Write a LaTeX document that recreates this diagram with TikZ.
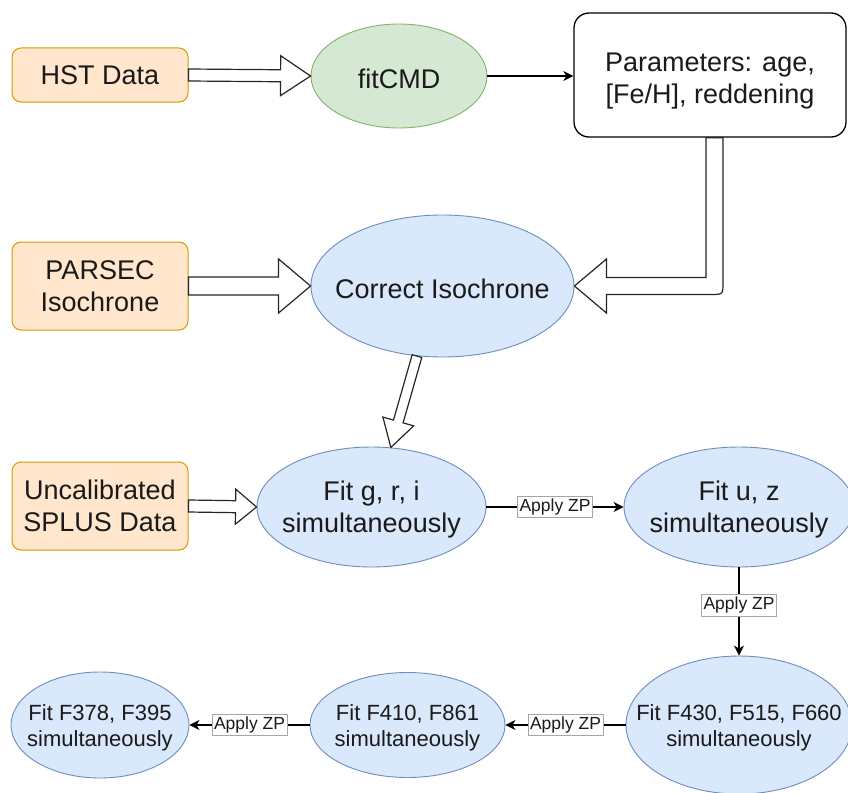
\documentclass[tikz,border=0pt]{standalone}
\usepackage{fontspec}
\setmainfont{Liberation Sans}
\usetikzlibrary{shapes.geometric,calc,arrows.meta}
\definecolor{ofill}{HTML}{FFE6CC}
\definecolor{odraw}{HTML}{D79B00}
\definecolor{gfill}{HTML}{D5E8D4}
\definecolor{gdraw}{HTML}{82B366}
\definecolor{bfill}{HTML}{DAE8FC}
\definecolor{bdraw}{HTML}{6C8EBF}
\definecolor{txt}{HTML}{1A1A1A}
\tikzset{
  bigfont/.style={font=\fontsize{27}{32}\selectfont},
  smallfont/.style={font=\fontsize{22}{26}\selectfont},
  obox/.style={draw=odraw, fill=odraw!0!ofill, fill=ofill, line width=1pt, rounded corners=9pt,
    minimum width=176pt, align=center, text=txt, bigfont, inner sep=0pt},
  bell/.style={ellipse, draw=bdraw, fill=bfill, line width=0.9pt, inner sep=0pt},
  etext/.style={align=center, text=txt, inner sep=0pt, yshift=-3pt},
  flex/.style={draw=black!85, fill=white, line width=1.2pt, line join=miter},
  conn/.style={draw=black, line width=1.3pt, -{Stealth[length=10pt,width=10pt,inset=3pt]}},
  zp/.style={fill=white, draw=black!35, line width=0.6pt, text=txt,
    font=\fontsize{17.5}{20}\selectfont, inner xsep=2pt, inner ysep=2.5pt}
}
% flex (hollow) arrow: #1 start, #2 end, #3 shaft half width, #4 head half width, #5 head length
\newcommand\flexarr[5]{%
  \coordinate (fa-h) at ($(#2)!#5!(#1)$);
  \draw[flex] ($(#1)!#3!90:(#2)$) -- ($(fa-h)!#3!-90:(#1)$) -- ($(fa-h)!#4!-90:(#1)$)
    -- (#2) -- ($(fa-h)!#4!90:(#1)$) -- ($(fa-h)!#3!90:(#1)$) -- ($(#1)!#3!-90:(#2)$) -- cycle;
}
\begin{document}
\begin{tikzpicture}[x=1pt,y=-1pt]
\clip (0,0) rectangle (848,792);
\fill[white] (0,0) rectangle (848,792);

% shapes
\node[obox, minimum height=54pt] (hst) at (100,75) {\raisebox{-2pt}{HST Data}};
\node[ellipse, draw=gdraw, fill=gfill, line width=0.9pt, minimum width=176pt,
  minimum height=104pt, inner sep=0pt] (fitcmd) at (399,76) {};
\node[draw=black, line width=1.3pt, fill=white, rounded corners=15pt, minimum width=272pt,
  minimum height=124pt, inner sep=0pt] (params) at (710,75) {};

\node[obox, minimum height=88pt] (parsec) at (100,286) {PARSEC\\Isochrone};
\node[bell, minimum width=263pt, minimum height=142pt] (corr) at (442.5,286) {};

\node[obox, minimum height=88pt] (uncal) at (100,506) {Uncalibrated\\SPLUS Data};
\node[bell, minimum width=229pt, minimum height=120pt] (gri) at (371.5,507) {};
\node[bell, minimum width=230pt, minimum height=120pt] (uz) at (739,507) {};

\node[bell, minimum width=226pt, minimum height=138pt] (f430) at (739,725) {};
\node[bell, minimum width=195pt, minimum height=105pt] (f410) at (407.5,725) {};
\node[bell, minimum width=178pt, minimum height=106pt] (f378) at (100,725) {};

% texts
\node[etext, bigfont] (fitcmd-t) at (fitcmd) {fitCMD};
\node[etext, bigfont, yshift=-3pt] (params-t) at (params) {Parameters: age,\\{}[Fe/H], reddening};
\node[etext, bigfont] (corr-t) at (corr) {Correct Isochrone};
\node[etext, bigfont] (gri-t) at (gri) {Fit g, r, i\\simultaneously};
\node[etext, bigfont] (uz-t) at (uz) {Fit u, z\\simultaneously};
\node[etext, smallfont] (f430-t) at (f430) {Fit F430, F515, F660\\simultaneously};
\node[etext, smallfont] (f410-t) at (f410) {Fit F410, F861\\simultaneously};
\node[etext, smallfont] (f378-t) at (f378) {Fit F378, F395\\simultaneously};

% hollow arrows
\flexarr{hst.east}{fitcmd.west}{6pt}{20pt}{30pt}
\flexarr{parsec.east}{corr.west}{9pt}{27pt}{32pt}
\flexarr{uncal.east}{gri.west}{6pt}{17.5pt}{21pt}
\flexarr{corr.250}{gri.72}{5pt}{16pt}{27pt}

% bent hollow arrow from parameters to correct isochrone
\coordinate (ps) at (714.5,0 |- params.south);
\draw[flex] let \p1=(ps), \p2=(corr.east) in
  (\x1-8.5pt,\y1) -- (\x1-8.5pt,\y2+8.5pt) -- (\x2+32pt,\y2+8.5pt) -- (\x2+32pt,\y2+27pt)
  -- (\x2,\y2) -- (\x2+32pt,\y2-27pt) -- (\x2+32pt,\y2-8.5pt) -- (\x1-3.5pt,\y2-8.5pt)
  .. controls (\x1+8.5pt,\y2-8.5pt) .. (\x1+8.5pt,\y2+3.5pt) -- (\x1+8.5pt,\y1) -- cycle;

% plain connectors
\draw[conn] (fitcmd.east) -- (params.west |- fitcmd.east);
\draw[conn] (gri.east) -- node[zp] {Apply ZP} (uz.west);
\draw[conn] (uz.south) -- node[zp, pos=0.43] {Apply ZP} (f430.north);
\draw[conn] (f430.west) -- node[zp] {Apply ZP} (f410.east);
\draw[conn] (f410.west) -- node[zp] {Apply ZP} (f378.east);
\end{tikzpicture}
\end{document}
